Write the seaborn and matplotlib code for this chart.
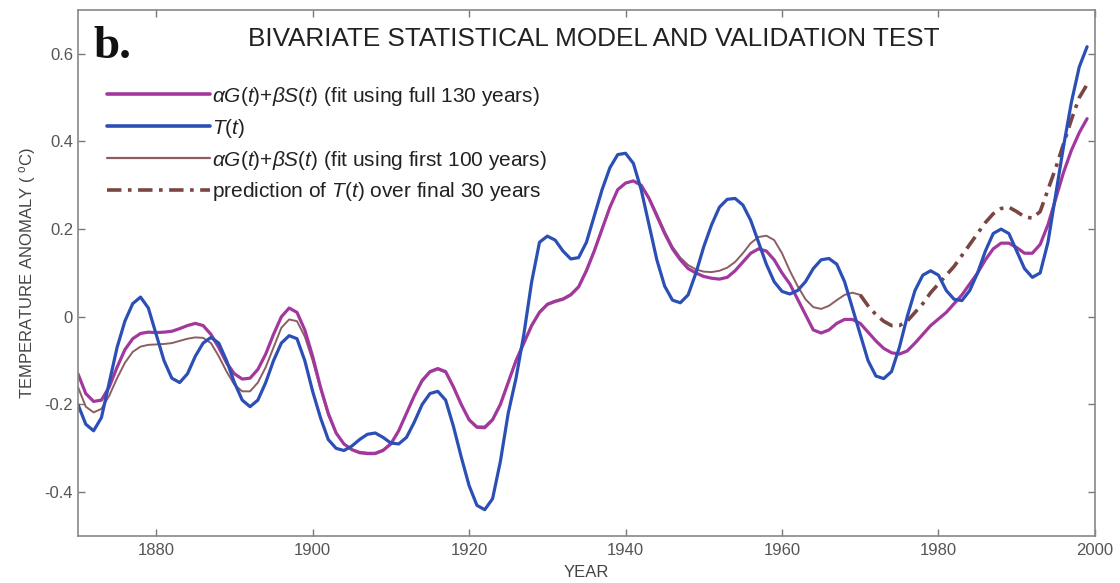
import numpy as np
import pandas as pd
import seaborn as sns
import matplotlib
matplotlib.use("Agg")
import matplotlib.pyplot as plt
from matplotlib.lines import Line2D

# ---------------- data ----------------
years = list(range(1870, 2000))

T_obs = [
    -0.20, -0.245, -0.26, -0.23, -0.15, -0.07, -0.01, 0.03, 0.045, 0.02,
    -0.04, -0.10, -0.14, -0.15, -0.13, -0.09, -0.06, -0.047, -0.06, -0.10,
    -0.15, -0.19, -0.205, -0.19, -0.15, -0.10, -0.06, -0.043, -0.05, -0.10,
    -0.17, -0.23, -0.28, -0.30, -0.305, -0.295, -0.28, -0.268, -0.265, -0.275,
    -0.288, -0.29, -0.275, -0.24, -0.20, -0.175, -0.17, -0.19, -0.25, -0.32,
    -0.385, -0.43, -0.44, -0.415, -0.33, -0.22, -0.14, -0.04, 0.08, 0.17,
    0.184, 0.175, 0.15, 0.132, 0.135, 0.17, 0.23, 0.29, 0.34, 0.37,
    0.373, 0.35, 0.29, 0.21, 0.13, 0.07, 0.038, 0.032, 0.05, 0.10,
    0.16, 0.21, 0.25, 0.268, 0.27, 0.255, 0.22, 0.17, 0.12, 0.08,
    0.058, 0.052, 0.06, 0.08, 0.11, 0.13, 0.133, 0.12, 0.08, 0.02,
    -0.04, -0.10, -0.135, -0.141, -0.125, -0.07, 0.00, 0.06, 0.095, 0.105,
    0.095, 0.06, 0.04, 0.037, 0.06, 0.10, 0.15, 0.19, 0.20, 0.19,
    0.15, 0.11, 0.09, 0.10, 0.17, 0.28, 0.39, 0.49, 0.57, 0.616,
]

fit_full = [
    -0.13, -0.175, -0.193, -0.19, -0.16, -0.115, -0.075, -0.05, -0.038, -0.035,
    -0.036, -0.035, -0.033, -0.027, -0.02, -0.015, -0.02, -0.04, -0.07, -0.105,
    -0.13, -0.142, -0.14, -0.12, -0.085, -0.04, 0.00, 0.02, 0.01, -0.03,
    -0.09, -0.16, -0.22, -0.265, -0.29, -0.303, -0.31, -0.312, -0.312, -0.305,
    -0.29, -0.26, -0.22, -0.18, -0.145, -0.125, -0.118, -0.125, -0.16, -0.20,
    -0.235, -0.252, -0.253, -0.235, -0.20, -0.15, -0.10, -0.06, -0.02, 0.01,
    0.028, 0.035, 0.04, 0.05, 0.068, 0.105, 0.15, 0.20, 0.25, 0.29,
    0.305, 0.31, 0.30, 0.27, 0.23, 0.19, 0.155, 0.13, 0.11, 0.10,
    0.092, 0.088, 0.086, 0.09, 0.105, 0.125, 0.145, 0.155, 0.15, 0.13,
    0.10, 0.075, 0.04, 0.005, -0.03, -0.037, -0.03, -0.015, -0.006, -0.006,
    -0.015, -0.035, -0.055, -0.072, -0.082, -0.085, -0.078, -0.06, -0.04, -0.02,
    -0.005, 0.01, 0.03, 0.05, 0.075, 0.10, 0.13, 0.155, 0.168, 0.168,
    0.158, 0.145, 0.145, 0.165, 0.21, 0.27, 0.33, 0.38, 0.42, 0.452,
]

years_fit100 = list(range(1870, 1971))
fit_first100 = [
    -0.16, -0.205, -0.218, -0.21, -0.18, -0.14, -0.105, -0.08, -0.068, -0.064,
    -0.063, -0.062, -0.06, -0.055, -0.05, -0.047, -0.048, -0.06, -0.09, -0.125,
    -0.155, -0.17, -0.17, -0.15, -0.115, -0.07, -0.025, -0.006, -0.01, -0.045,
    -0.10, -0.165, -0.225, -0.265, -0.29, -0.302, -0.308, -0.31, -0.31, -0.303,
    -0.288, -0.26, -0.22, -0.18, -0.148, -0.127, -0.12, -0.127, -0.16, -0.20,
    -0.233, -0.25, -0.25, -0.233, -0.198, -0.148, -0.098, -0.058, -0.018, 0.012,
    0.03, 0.037, 0.042, 0.052, 0.07, 0.108, 0.152, 0.202, 0.25, 0.29,
    0.305, 0.31, 0.30, 0.272, 0.235, 0.195, 0.16, 0.135, 0.118, 0.108,
    0.103, 0.102, 0.105, 0.112, 0.125, 0.145, 0.168, 0.182, 0.185, 0.175,
    0.145, 0.105, 0.07, 0.04, 0.022, 0.018, 0.025, 0.038, 0.05, 0.055,
    0.05,
]

years_pred = list(range(1970, 2000))
prediction = [
    0.05, 0.025, 0.005, -0.01, -0.02, -0.02, -0.01, 0.01, 0.03, 0.055,
    0.075, 0.095, 0.115, 0.14, 0.165, 0.19, 0.215, 0.235, 0.247, 0.25,
    0.24, 0.228, 0.225, 0.24, 0.29, 0.34, 0.395, 0.45, 0.50, 0.53,
]

x_ticks = [1880, 1900, 1920, 1940, 1960, 1980, 2000]
x_tick_labels = ["1880", "1900", "1920", "1940", "1960", "1980", "2000"]
y_ticks = [-0.4, -0.2, 0.0, 0.2, 0.4, 0.6]
y_tick_labels = ["-0.4", "-0.2", "0", "0.2", "0.4", "0.6"]

labels = [
    r"$\alpha G(t)$+$\beta S(t)$ (fit using full 130 years)",
    r"$T(t)$",
    r"$\alpha G(t)$+$\beta S(t)$ (fit using first 100 years)",
    r"prediction of $T(t)$ over final 30 years",
]

# ---------------- style ----------------
sns.set_style("white")
plt.rcParams["font.family"] = ["Liberation Sans", "DejaVu Sans"]
plt.rcParams["mathtext.fontset"] = "custom"
plt.rcParams["mathtext.rm"] = "Liberation Sans"
plt.rcParams["mathtext.it"] = "Liberation Sans:italic"
plt.rcParams["mathtext.bf"] = "Liberation Sans:bold"

c_full = "#a2389e"
c_obs = "#2b4fb5"
c_100 = "#8c5e60"
c_pred = "#7a4644"
dashdot = (0, (4, 1.8, 1, 1.8))

fig = plt.figure(figsize=(11.2, 5.83), dpi=100)
ax = fig.add_axes([0.0696, 0.0806, 0.908, 0.9024])

df_obs = pd.DataFrame({"year": years, "val": T_obs})
df_full = pd.DataFrame({"year": years, "val": fit_full})
df_100 = pd.DataFrame({"year": years_fit100, "val": fit_first100})
df_pred = pd.DataFrame({"year": years_pred, "val": prediction})

sns.lineplot(data=df_100, x="year", y="val", ax=ax, color=c_100, lw=1.4)
sns.lineplot(data=df_pred, x="year", y="val", ax=ax, color=c_pred, lw=2.6,
             linestyle=dashdot)
sns.lineplot(data=df_full, x="year", y="val", ax=ax, color=c_full, lw=2.3)
sns.lineplot(data=df_obs, x="year", y="val", ax=ax, color=c_obs, lw=2.3)

ax.set_xlim(1870, 2000)
ax.set_ylim(-0.5, 0.7)
ax.set_xticks(x_ticks)
ax.set_xticklabels(x_tick_labels)
ax.set_yticks(y_ticks)
ax.set_yticklabels(y_tick_labels)
ax.tick_params(direction="in", length=5, width=1, colors="#777777",
               labelcolor="#555555", labelsize=12, top=True, right=True,
               bottom=True, left=True)
ax.tick_params(axis="x", pad=5)
for s in ax.spines.values():
    s.set_color("#888888")
    s.set_linewidth(1.2)

ax.set_xlabel("YEAR", fontsize=12, color="#444444", labelpad=5)
ax.set_ylabel(r"TEMPERATURE ANOMALY ( $^{\mathrm{o}}$C)", fontsize=12,
              color="#444444", labelpad=5)

ax.text(0.507, 0.945, "BIVARIATE STATISTICAL MODEL AND VALIDATION TEST",
        transform=ax.transAxes, ha="center", va="center", fontsize=18.8,
        color="#222222")
ax.text(0.015, 0.909, "b.", transform=ax.transAxes, ha="left",
        va="baseline", fontsize=34, fontweight="bold",
        family=["Liberation Serif", "DejaVu Serif"], color="#111111")

handles = [
    Line2D([], [], color=c_full, lw=2.6),
    Line2D([], [], color=c_obs, lw=2.6),
    Line2D([], [], color=c_100, lw=1.6),
    Line2D([], [], color=c_pred, lw=2.6, linestyle=dashdot),
]
leg = ax.legend(handles, labels, loc="upper left",
                bbox_to_anchor=(0.0285, 0.858), frameon=False,
                fontsize=15, handlelength=4.95, handletextpad=0.08,
                labelspacing=0.43, borderpad=0, borderaxespad=0)
for t in leg.get_texts():
    t.set_color("#222222")

fig.savefig("out.png", dpi=100)
